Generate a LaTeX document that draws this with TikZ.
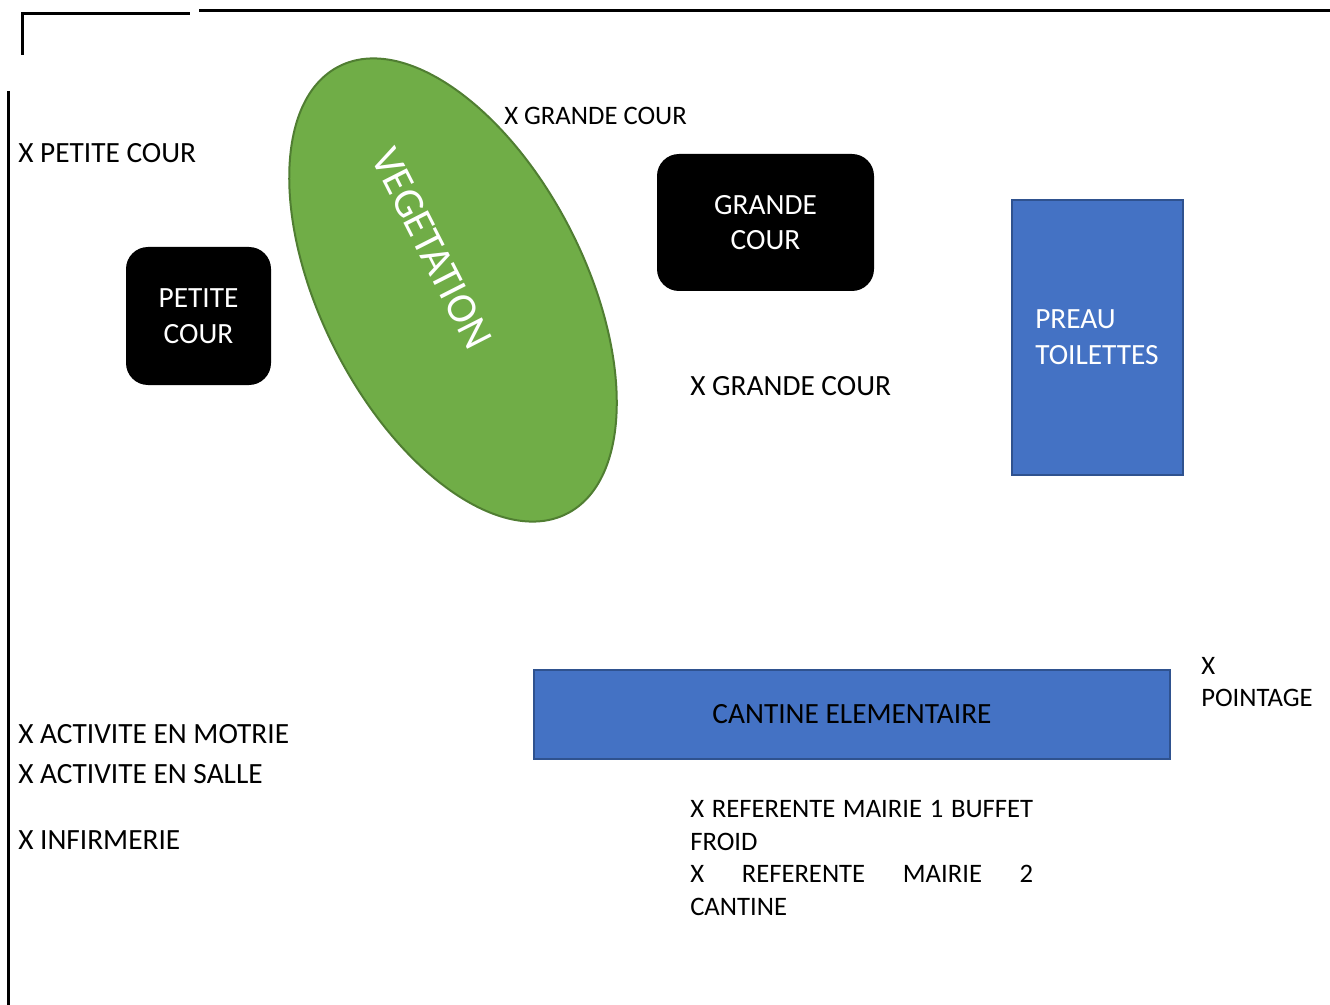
\documentclass[tikz,border=0pt]{standalone}
\usepackage{fontspec}
\setmainfont{Carlito}
\usepackage{tikz}
\usetikzlibrary{shapes.geometric, positioning}
\definecolor{vegfill}{HTML}{70AD47}
\definecolor{vegline}{HTML}{507E32}
\definecolor{batfill}{HTML}{4472C4}
\definecolor{batline}{HTML}{2F528F}

\begin{document}
\begin{tikzpicture}[
  x=0.75pt, y=-0.75pt,
  mur/.style={line width=2.25pt, black},
  cour/.style={rectangle, rounded corners=16.5pt, fill=black, text=white, align=center, inner sep=0pt, font=\fontsize{22}{26.8}\selectfont},
  bati/.style={rectangle, fill=batfill, draw=batline, line width=1.5pt, inner sep=0pt, font=\fontsize{22}{26.8}\selectfont},
  lbl/.style={anchor=west, inner sep=0pt, align=left, font=\fontsize{22}{26.8}\selectfont},
  lblsm/.style={lbl, font=\fontsize{20}{24.4}\selectfont}
]
  \useasboundingbox (0,0) rectangle (1330,1005);
  % murs
  \draw[mur] (22,55) -- (22,14) -- (190,14);
  \draw[mur] (199,11) -- (1330,11);
  \draw[mur] (8,91) -- (8,1005);
  % cours
  \node[cour, minimum width=108.75pt, minimum height=103.5pt] (petite) at (198.5,316) {PETITE\\COUR};
  \node[cour, minimum width=162.75pt, minimum height=102.75pt] (grande) at (765.5,222.5) {GRANDE\\COUR};
  % vegetation
  \node[ellipse, fill=vegfill, draw=vegline, line width=1.5pt, inner sep=0pt, minimum width=376.5pt, minimum height=198pt, rotate=-63, text=white, font=\fontsize{32}{38}\selectfont] (veg) at (453,290) {VEGETATION\hspace*{70pt}};
  % batiments
  \node[bati, minimum width=128.25pt, minimum height=206.25pt, text=white, align=left] (preau) at (1097,337.5) {PREAU\\TOILETTES};
  \node[bati, minimum width=477pt, minimum height=66.75pt, text=black] (cantine) at (852,714.5) {CANTINE ELEMENTAIRE};
  % reperes
  \node[lbl] (xpetite) at (18,153) {X PETITE COUR};
  \node[lblsm] (xgrande1) at (504,116) {X GRANDE COUR};
  \node[lbl] (xgrande2) at (690,386) {X GRANDE COUR};
  \node[lblsm] (xpointage) at (1201,682) {X\\POINTAGE};
  \node[lbl] (xmotrie) at (18,734) {X ACTIVITE EN MOTRIE};
  \node[lbl] (xsalle) at (18,774) {X ACTIVITE EN SALLE};
  \node[lbl] (xinfirm) at (18,840) {X INFIRMERIE};
  \node[lblsm] (xmairie) at (690,858) {\makebox[257.25pt][s]{X REFERENTE MAIRIE 1 BUFFET}\\FROID\\\makebox[257.25pt][s]{X REFERENTE MAIRIE 2}\\CANTINE};
\end{tikzpicture}
\end{document}
